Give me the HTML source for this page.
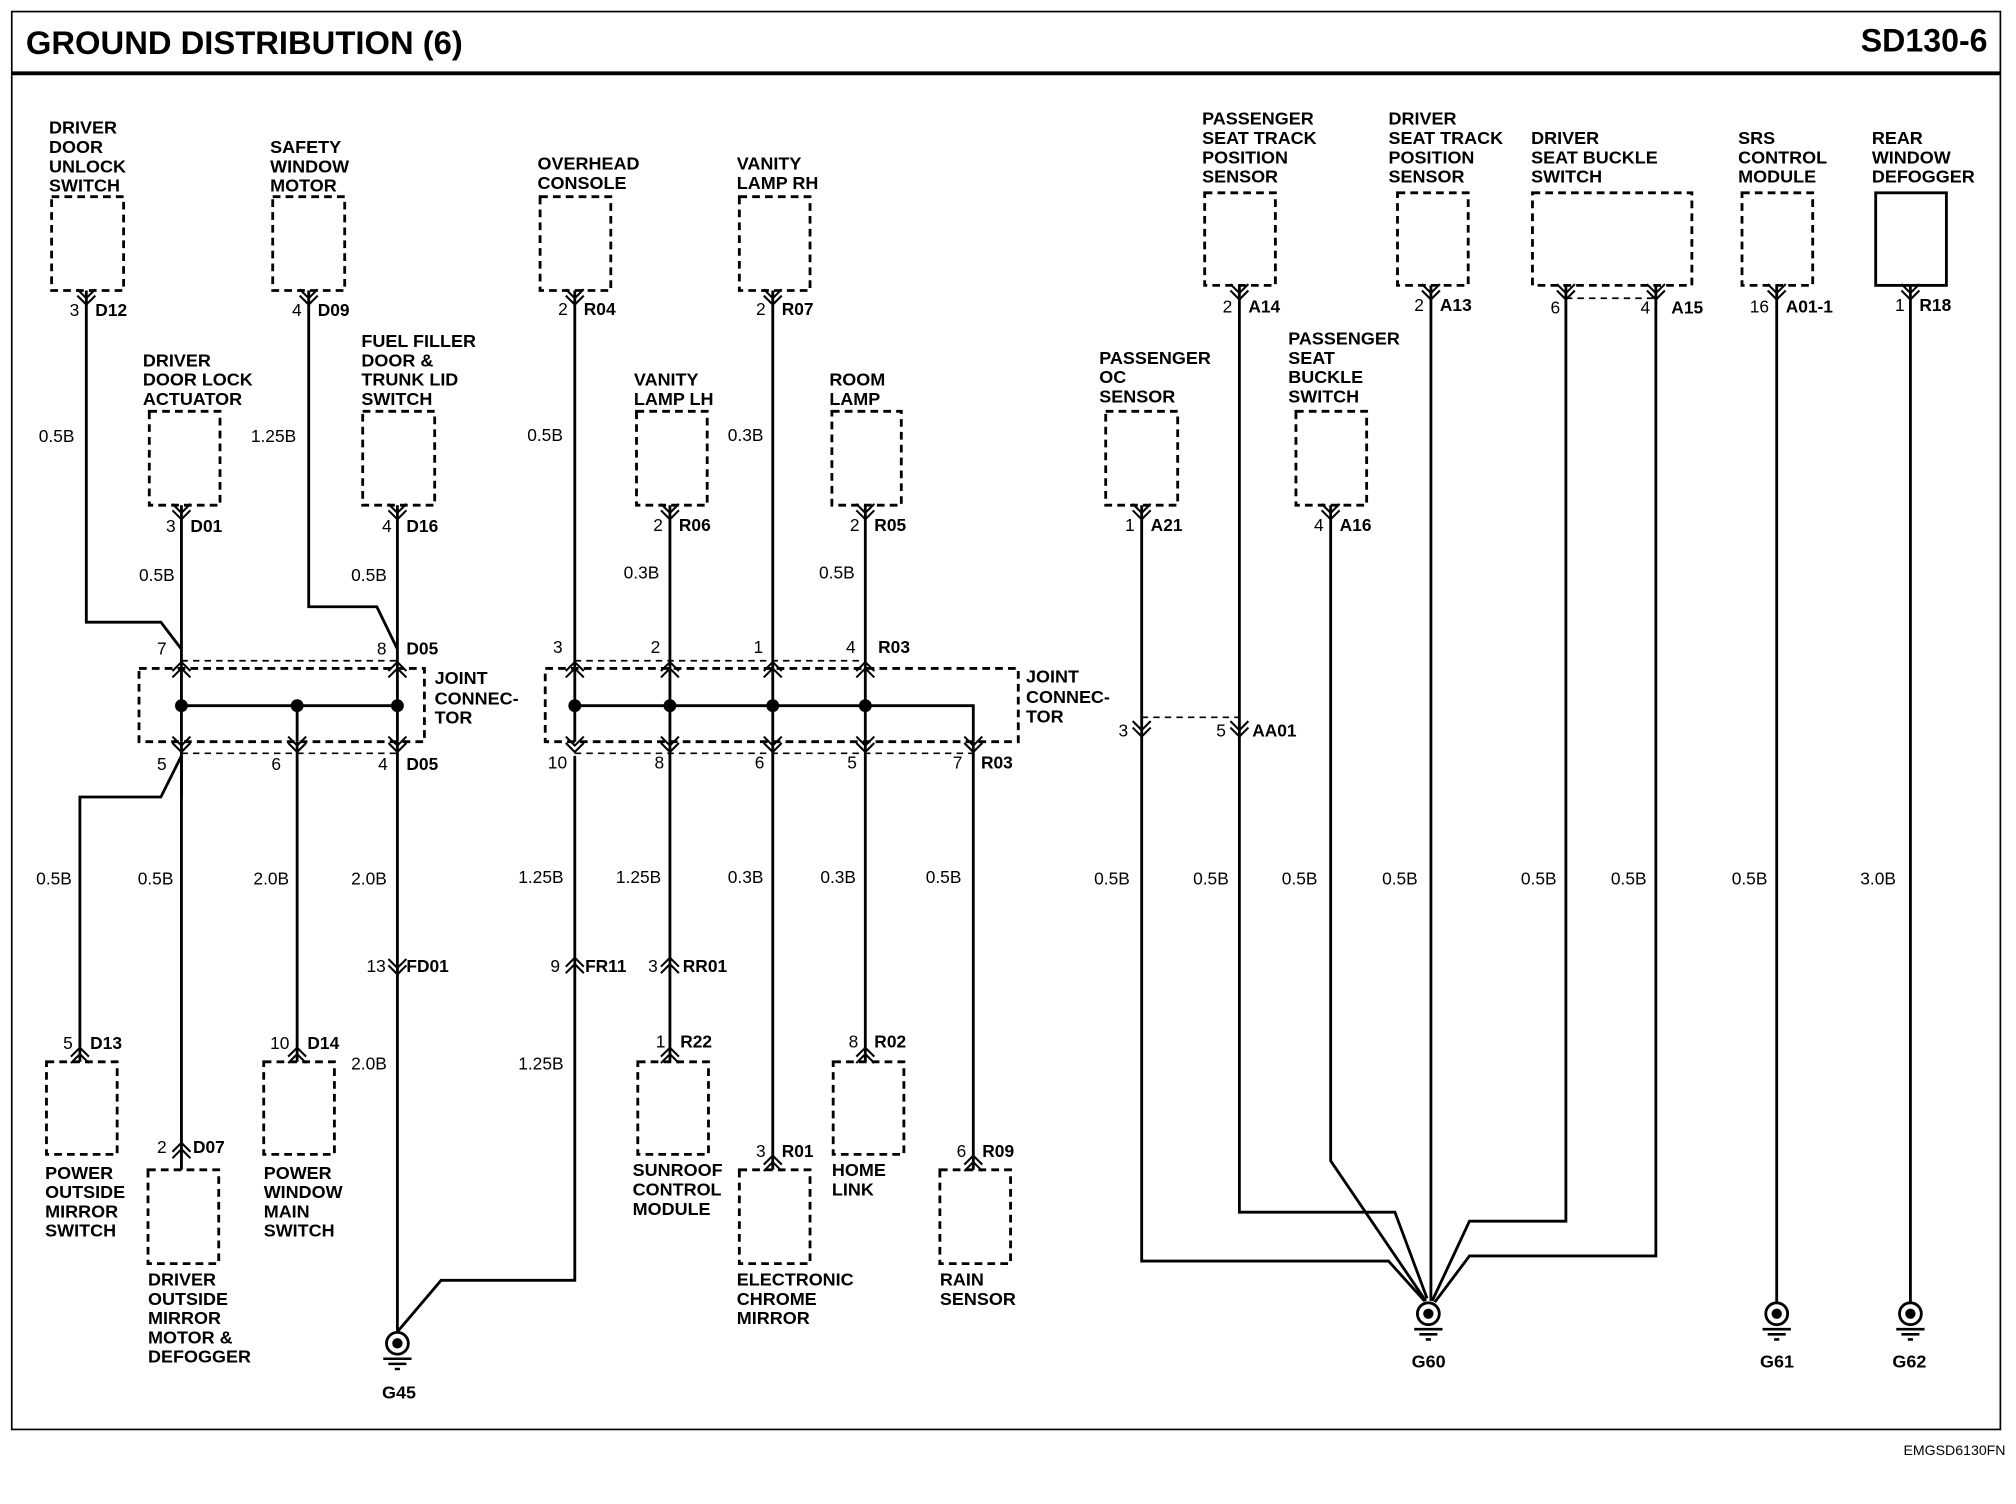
<!DOCTYPE html>
<html><head><meta charset="utf-8"><style>
html,body{margin:0;padding:0;background:#fff;}
svg{display:block;}
text{font-family:"Liberation Sans",Arial,sans-serif;fill:#000;}
.l{font-size:14px;font-weight:bold;}
.w{font-size:13.5px;}
.p{font-size:13.5px;}
.pc{font-size:13.5px;font-weight:bold;}
</style></head><body>
<svg width="2016" height="1504" viewBox="0 0 1568 1170" xmlns="http://www.w3.org/2000/svg">
<defs>
<g id="vd" fill="none" stroke="#000" stroke-width="1.6"><path d="M-7,-9 L0,-2 L7,-9 M-7,-4 L0,3 L7,-4"/></g>
<g id="vu" fill="none" stroke="#000" stroke-width="1.6"><path d="M-7,9 L0,2 L7,9 M-7,4 L0,-3 L7,4"/></g>
<g id="gnd"><circle r="8.5" fill="#fff" stroke="#000" stroke-width="2.2"/><circle r="4" fill="#000"/><path d="M-11,12 H11 M-7,16 H7 M-2,20 H2" stroke="#000" stroke-width="2"/></g>
</defs>
<rect x="0" y="0" width="1568" height="1170" fill="#fff"/>
<rect x="9" y="9" width="1547" height="1103" fill="none" stroke="#000" stroke-width="1.3"/>
<line x1="9" y1="57" x2="1556" y2="57" stroke="#000" stroke-width="3"/>
<text x="20" y="42" style="font-size:25.5px;font-weight:bold">GROUND DISTRIBUTION (6)</text>
<text x="1546" y="40" text-anchor="end" style="font-size:25px;font-weight:bold">SD130-6</text>
<text x="1560" y="1132" text-anchor="end" style="font-size:11px">EMGSD6130FN</text>

<g fill="none" stroke="#000" stroke-width="2.2" stroke-dasharray="6,4">
<rect x="40" y="153" width="56" height="73"/>
<rect x="212" y="153" width="56" height="73"/>
<rect x="116" y="320" width="55" height="73"/>
<rect x="282" y="320" width="56" height="73"/>
<rect x="108" y="520" width="222" height="57"/>
<rect x="36" y="826" width="55" height="72"/>
<rect x="205" y="826" width="55" height="72"/>
<rect x="115" y="910" width="55" height="73"/>
<rect x="420" y="153" width="55" height="73"/>
<rect x="575" y="153" width="55" height="73"/>
<rect x="495" y="320" width="55" height="73"/>
<rect x="647" y="320" width="54" height="73"/>
<rect x="424" y="520" width="368" height="57"/>
<rect x="496" y="826" width="55" height="72"/>
<rect x="648" y="826" width="55" height="72"/>
<rect x="575" y="910" width="55" height="73"/>
<rect x="731" y="910" width="55" height="73"/>
<rect x="937" y="150" width="55" height="72"/>
<rect x="1087" y="150" width="55" height="72"/>
<rect x="860" y="320" width="56" height="73"/>
<rect x="1008" y="320" width="55" height="73"/>
<rect x="1192" y="150" width="124" height="72"/>
<rect x="1355" y="150" width="55" height="72"/>
</g>
<rect x="1459" y="150" width="55" height="72" fill="none" stroke="#000" stroke-width="2.2"/>
<g fill="none" stroke="#000" stroke-width="1.3" stroke-dasharray="5,4">
<line x1="141" y1="514" x2="309" y2="514"/><line x1="141" y1="586" x2="309" y2="586"/>
<line x1="447" y1="514" x2="673" y2="514"/><line x1="447" y1="586" x2="757" y2="586"/>
<line x1="888" y1="558" x2="964" y2="558"/><line x1="1218" y1="232" x2="1288" y2="232"/>
</g>

<g fill="none" stroke="#000" stroke-width="2.2">
<path d="M67,226 V484 H125 L141,505"/>
<path d="M240,226 V472 H293 L309,505"/>
<path d="M141,393 V577"/><path d="M309,393 V577"/>
<path d="M141,549 H309"/><path d="M231,549 V577"/>
<path d="M141,577 V620 M141,588 L125,620 H62 V826"/>
<path d="M141,588 V910"/>
<path d="M231,577 V826"/>
<path d="M309,577 V1036 L343,996 H447 V588"/>
<path d="M447,226 V577"/><path d="M601,226 V577"/>
<path d="M521,393 V577"/><path d="M673,393 V577"/>
<path d="M447,549 H757 V577"/>
<path d="M521,577 V826"/><path d="M601,577 V910"/><path d="M673,577 V826"/><path d="M757,577 V910"/>
<path d="M964,222 V943 H1085 L1110,1010"/>
<path d="M888,393 V981 H1080 L1108,1012"/>
<path d="M1113,222 V1012"/>
<path d="M1035,393 V903 L1109,1012"/>
<path d="M1218,222 V950 H1143 L1114,1012"/>
<path d="M1288,222 V977 H1143 L1116,1013"/>
<path d="M1382,222 V1013"/>
<path d="M1486,222 V1013"/>
</g>
<g fill="#000"><circle cx="141" cy="549" r="5"/><circle cx="231" cy="549" r="5"/><circle cx="309" cy="549" r="5"/>
<circle cx="447" cy="549" r="5"/><circle cx="521" cy="549" r="5"/><circle cx="601" cy="549" r="5"/><circle cx="673" cy="549" r="5"/></g>

<use href="#vd" x="67" y="234"/><use href="#vd" x="240" y="234"/>
<use href="#vd" x="141" y="401"/><use href="#vd" x="309" y="401"/>
<use href="#vu" x="141" y="518"/><use href="#vu" x="309" y="518"/>
<use href="#vd" x="141" y="582"/><use href="#vd" x="231" y="582"/><use href="#vd" x="309" y="582"/>
<use href="#vu" x="62" y="818"/><use href="#vu" x="231" y="818"/><use href="#vu" x="141" y="892"/>
<use href="#vd" x="309" y="755"/>
<use href="#vd" x="447" y="234"/><use href="#vd" x="601" y="234"/>
<use href="#vd" x="521" y="401"/><use href="#vd" x="673" y="401"/>
<use href="#vu" x="447" y="518"/><use href="#vu" x="521" y="518"/><use href="#vu" x="601" y="518"/><use href="#vu" x="673" y="518"/>
<use href="#vd" x="447" y="582"/><use href="#vd" x="521" y="582"/><use href="#vd" x="601" y="582"/><use href="#vd" x="673" y="582"/><use href="#vd" x="757" y="582"/>
<use href="#vu" x="447" y="748"/><use href="#vu" x="521" y="748"/>
<use href="#vu" x="521" y="818"/><use href="#vu" x="673" y="818"/><use href="#vu" x="601" y="902"/><use href="#vu" x="757" y="902"/>
<use href="#vd" x="964" y="230"/><use href="#vd" x="1113" y="230"/><use href="#vd" x="1218" y="230"/><use href="#vd" x="1288" y="230"/>
<use href="#vd" x="1382" y="230"/><use href="#vd" x="1486" y="230"/>
<use href="#vd" x="888" y="401"/><use href="#vd" x="1035" y="401"/>
<use href="#vd" x="888" y="570"/><use href="#vd" x="964" y="570"/>

<use href="#gnd" x="309" y="1045"/><use href="#gnd" x="1111" y="1022"/><use href="#gnd" x="1382" y="1022"/><use href="#gnd" x="1486" y="1022"/>

<g class="l">
<text x="38" y="104">DRIVER</text><text x="38" y="119">DOOR</text><text x="38" y="134">UNLOCK</text><text x="38" y="149">SWITCH</text>
<text x="210" y="119">SAFETY</text><text x="210" y="134">WINDOW</text><text x="210" y="149">MOTOR</text>
<text x="111" y="285">DRIVER</text><text x="111" y="300">DOOR LOCK</text><text x="111" y="315">ACTUATOR</text>
<text x="281" y="270">FUEL FILLER</text><text x="281" y="285">DOOR &amp;</text><text x="281" y="300">TRUNK LID</text><text x="281" y="315">SWITCH</text>
<text x="338" y="532">JOINT</text><text x="338" y="548">CONNEC-</text><text x="338" y="563">TOR</text>
<text x="35" y="917">POWER</text><text x="35" y="932">OUTSIDE</text><text x="35" y="947">MIRROR</text><text x="35" y="962">SWITCH</text>
<text x="205" y="917">POWER</text><text x="205" y="932">WINDOW</text><text x="205" y="947">MAIN</text><text x="205" y="962">SWITCH</text>
<text x="115" y="1000">DRIVER</text><text x="115" y="1015">OUTSIDE</text><text x="115" y="1030">MIRROR</text><text x="115" y="1045">MOTOR &amp;</text><text x="115" y="1060">DEFOGGER</text>
<text x="297" y="1088">G45</text>
<text x="418" y="132">OVERHEAD</text><text x="418" y="147">CONSOLE</text>
<text x="573" y="132">VANITY</text><text x="573" y="147">LAMP RH</text>
<text x="493" y="300">VANITY</text><text x="493" y="315">LAMP LH</text>
<text x="645" y="300">ROOM</text><text x="645" y="315">LAMP</text>
<text x="798" y="531">JOINT</text><text x="798" y="547">CONNEC-</text><text x="798" y="562">TOR</text>
<text x="492" y="915">SUNROOF</text><text x="492" y="930">CONTROL</text><text x="492" y="945">MODULE</text>
<text x="647" y="915">HOME</text><text x="647" y="930">LINK</text>
<text x="573" y="1000">ELECTRONIC</text><text x="573" y="1015">CHROME</text><text x="573" y="1030">MIRROR</text>
<text x="731" y="1000">RAIN</text><text x="731" y="1015">SENSOR</text>
<text x="935" y="97">PASSENGER</text><text x="935" y="112">SEAT TRACK</text><text x="935" y="127">POSITION</text><text x="935" y="142">SENSOR</text>
<text x="1080" y="97">DRIVER</text><text x="1080" y="112">SEAT TRACK</text><text x="1080" y="127">POSITION</text><text x="1080" y="142">SENSOR</text>
<text x="1191" y="112">DRIVER</text><text x="1191" y="127">SEAT BUCKLE</text><text x="1191" y="142">SWITCH</text>
<text x="1352" y="112">SRS</text><text x="1352" y="127">CONTROL</text><text x="1352" y="142">MODULE</text>
<text x="1456" y="112">REAR</text><text x="1456" y="127">WINDOW</text><text x="1456" y="142">DEFOGGER</text>
<text x="855" y="283">PASSENGER</text><text x="855" y="298">OC</text><text x="855" y="313">SENSOR</text>
<text x="1002" y="268">PASSENGER</text><text x="1002" y="283">SEAT</text><text x="1002" y="298">BUCKLE</text><text x="1002" y="313">SWITCH</text>
<text x="1098" y="1064">G60</text><text x="1369" y="1064">G61</text><text x="1472" y="1064">G62</text>
</g>

<g class="p">
<text x="54" y="246">3</text><text x="227" y="246">4</text><text x="434" y="245">2</text><text x="588" y="245">2</text>
<text x="129" y="414">3</text><text x="297" y="414">4</text><text x="508" y="413">2</text><text x="661" y="413">2</text>
<text x="122" y="509">7</text><text x="293" y="509">8</text>
<text x="122" y="599">5</text><text x="211" y="599">6</text><text x="294" y="599">4</text>
<text x="430" y="508">3</text><text x="506" y="508">2</text><text x="586" y="508">1</text><text x="658" y="508">4</text>
<text x="426" y="598">10</text><text x="509" y="598">8</text><text x="587" y="598">6</text><text x="659" y="598">5</text><text x="741" y="598">7</text>
<text x="285" y="756">13</text><text x="428" y="756">9</text><text x="504" y="756">3</text>
<text x="49" y="816">5</text><text x="210" y="816">10</text><text x="122" y="897">2</text>
<text x="510" y="815">1</text><text x="660" y="815">8</text><text x="588" y="900">3</text><text x="744" y="900">6</text>
<text x="951" y="243">2</text><text x="1100" y="242">2</text><text x="1206" y="244">6</text><text x="1276" y="244">4</text><text x="1361" y="243">16</text><text x="1474" y="242">1</text>
<text x="875" y="413">1</text><text x="1022" y="413">4</text>
<text x="870" y="573">3</text><text x="946" y="573">5</text>
</g>
<g class="pc">
<text x="74" y="246">D12</text><text x="247" y="246">D09</text><text x="148" y="414">D01</text><text x="316" y="414">D16</text>
<text x="316" y="509">D05</text><text x="316" y="599">D05</text>
<text x="316" y="756">FD01</text><text x="70" y="816">D13</text><text x="239" y="816">D14</text><text x="150" y="897">D07</text>
<text x="454" y="245">R04</text><text x="608" y="245">R07</text><text x="528" y="413">R06</text><text x="680" y="413">R05</text>
<text x="683" y="508">R03</text><text x="763" y="598">R03</text>
<text x="455" y="756">FR11</text><text x="531" y="756">RR01</text>
<text x="529" y="815">R22</text><text x="680" y="815">R02</text><text x="608" y="900">R01</text><text x="764" y="900">R09</text>
<text x="971" y="243">A14</text><text x="1120" y="242">A13</text><text x="1300" y="244">A15</text><text x="1389" y="243">A01-1</text><text x="1493" y="242">R18</text>
<text x="895" y="413">A21</text><text x="1042" y="413">A16</text><text x="974" y="573">AA01</text>
</g>

<g class="w">
<text x="30" y="344">0.5B</text><text x="195" y="344">1.25B</text><text x="108" y="452">0.5B</text><text x="273" y="452">0.5B</text>
<text x="28" y="688">0.5B</text><text x="107" y="688">0.5B</text><text x="197" y="688">2.0B</text><text x="273" y="688">2.0B</text><text x="273" y="832">2.0B</text>
<text x="410" y="343">0.5B</text><text x="566" y="343">0.3B</text><text x="485" y="450">0.3B</text><text x="637" y="450">0.5B</text>
<text x="403" y="687">1.25B</text><text x="479" y="687">1.25B</text><text x="566" y="687">0.3B</text><text x="638" y="687">0.3B</text><text x="720" y="687">0.5B</text>
<text x="403" y="832">1.25B</text>
<text x="851" y="688">0.5B</text><text x="928" y="688">0.5B</text><text x="997" y="688">0.5B</text><text x="1075" y="688">0.5B</text><text x="1183" y="688">0.5B</text><text x="1253" y="688">0.5B</text>
<text x="1347" y="688">0.5B</text><text x="1447" y="688">3.0B</text>
</g>
</svg>
</body></html>
